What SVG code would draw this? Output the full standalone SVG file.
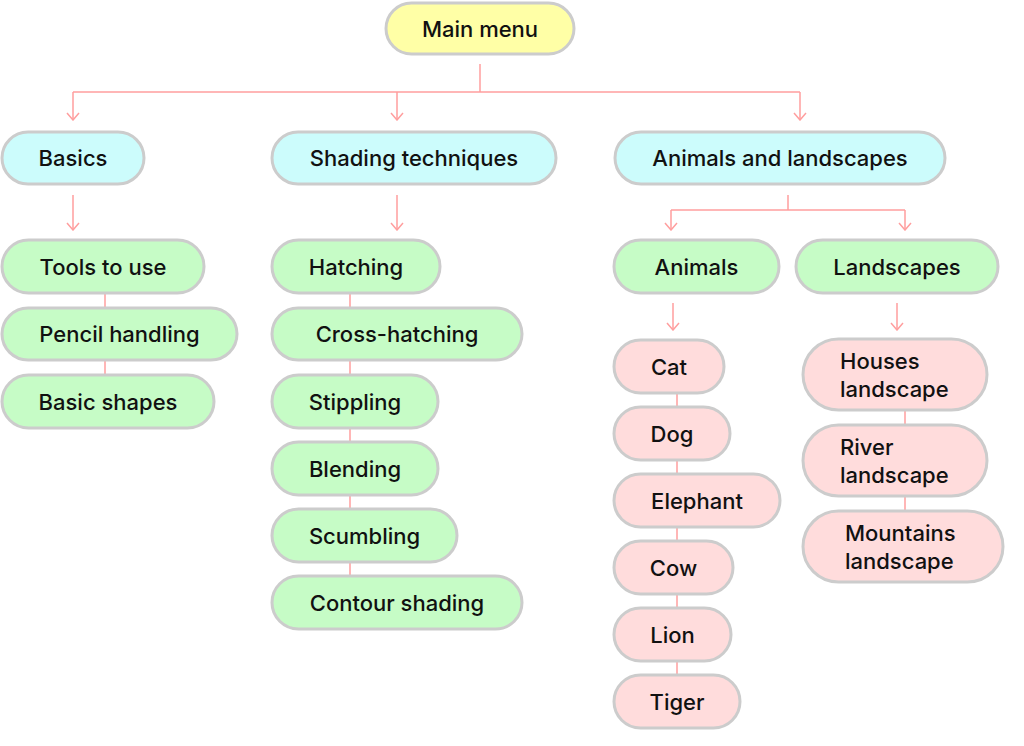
<svg xmlns="http://www.w3.org/2000/svg" width="1024" height="746" viewBox="0 0 1024 746">
<defs>
<marker id="ah" viewBox="0 0 10 14" refX="9" refY="7" markerWidth="10" markerHeight="14" markerUnits="userSpaceOnUse" orient="auto">
<path d="M2,1 L9,7 L2,13" fill="none" stroke="#ff9e9e" stroke-width="1.5"/>
</marker>
<style>
.n rect{stroke:#cccccc;stroke-width:3}
.y rect{fill:#ffffa6}
.c rect{fill:#ccfcfc}
.g rect{fill:#c6fcc6}
.p rect{fill:#ffdcdc}
text{font-family:Inter,"Noto Sans","Liberation Sans",sans-serif;font-size:22px;font-weight:500;fill:#111111;dominant-baseline:central}
.n text{text-anchor:middle}
.ml text{text-anchor:start}
#conn path{fill:none;stroke:#ff9e9e;stroke-width:1.5}
#conn .a{marker-end:url(#ah)}
</style>
</defs>
<rect width="1024" height="746" fill="#ffffff"/>
<g id="conn">
<path d="M480,64 V92 M73,92 H800"/>
<path class="a" d="M73,92 V120"/>
<path class="a" d="M397,92 V120"/>
<path class="a" d="M800,92 V120"/>
<path class="a" d="M73,195 V230"/>
<path class="a" d="M397,195 V230"/>
<path d="M788,195 V210 M671,210 H905"/>
<path class="a" d="M671,210 V230"/>
<path class="a" d="M905,210 V230"/>
<path class="a" d="M673,303 V330"/>
<path class="a" d="M897,303 V330"/>
<path d="M105,293 V308 M105,360 V375"/>
<path d="M350,293 V308 M350,360 V375 M350,428 V442 M350,495 V509 M350,562 V576"/>
<path d="M677,393 V407 M677,460 V474 M677,527 V541 M677,594 V608 M677,661 V675"/>
<path d="M905,410 V425 M905,496 V511"/>
</g>
<g id="main" class="n y"><rect x="386" y="3" width="188" height="51" rx="25.5"/><text x="480" y="28.5">Main menu</text></g>
<g id="basics" class="n c"><rect x="2" y="132" width="142" height="52" rx="26"/><text x="73" y="158">Basics</text></g>
<g id="shading" class="n c"><rect x="272" y="132" width="284" height="52" rx="26"/><text x="414" y="158">Shading techniques</text></g>
<g id="animals-landscapes" class="n c"><rect x="615" y="132" width="330" height="52" rx="26"/><text x="780" y="158">Animals and landscapes</text></g>
<g id="tools" class="n g"><rect x="2" y="240" width="202" height="53" rx="26.5"/><text x="103" y="266.5">Tools to use</text></g>
<g id="pencil" class="n g"><rect x="2" y="308" width="235" height="52" rx="26"/><text x="119.5" y="334">Pencil handling</text></g>
<g id="basic-shapes" class="n g"><rect x="2" y="375" width="212" height="53" rx="26.5"/><text x="108" y="401.5">Basic shapes</text></g>
<g id="hatching" class="n g"><rect x="272" y="240" width="168" height="53" rx="26.5"/><text x="356" y="266.5">Hatching</text></g>
<g id="cross-hatching" class="n g"><rect x="272" y="308" width="250" height="52" rx="26"/><text x="397" y="334">Cross-hatching</text></g>
<g id="stippling" class="n g"><rect x="272" y="375" width="166" height="53" rx="26.5"/><text x="355" y="401.5">Stippling</text></g>
<g id="blending" class="n g"><rect x="272" y="442" width="166" height="53" rx="26.5"/><text x="355" y="468.5">Blending</text></g>
<g id="scumbling" class="n g"><rect x="272" y="509" width="185" height="53" rx="26.5"/><text x="364.5" y="535.5">Scumbling</text></g>
<g id="contour" class="n g"><rect x="272" y="576" width="250" height="53" rx="26.5"/><text x="397" y="602.5">Contour shading</text></g>
<g id="animals" class="n g"><rect x="614" y="240" width="165" height="53" rx="26.5"/><text x="696.5" y="266.5">Animals</text></g>
<g id="landscapes" class="n g"><rect x="796" y="240" width="202" height="53" rx="26.5"/><text x="897" y="266.5">Landscapes</text></g>
<g id="cat" class="n p"><rect x="614" y="340" width="110" height="53" rx="26.5"/><text x="669" y="366.5">Cat</text></g>
<g id="dog" class="n p"><rect x="614" y="407" width="116" height="53" rx="26.5"/><text x="672" y="433.5">Dog</text></g>
<g id="elephant" class="n p"><rect x="614" y="474" width="166" height="53" rx="26.5"/><text x="697" y="500.5">Elephant</text></g>
<g id="cow" class="n p"><rect x="614" y="541" width="119" height="53" rx="26.5"/><text x="673.5" y="567.5">Cow</text></g>
<g id="lion" class="n p"><rect x="614" y="608" width="117" height="53" rx="26.5"/><text x="672.5" y="634.5">Lion</text></g>
<g id="tiger" class="n p"><rect x="614" y="675" width="126" height="53" rx="26.5"/><text x="677" y="701.5">Tiger</text></g>
<g id="houses" class="n p ml"><rect x="803" y="339" width="184" height="71" rx="35.5"/><text x="840" y="361">Houses</text><text x="840" y="389">landscape</text></g>
<g id="river" class="n p ml"><rect x="803" y="425" width="184" height="71" rx="35.5"/><text x="840" y="447">River</text><text x="840" y="475">landscape</text></g>
<g id="mountains" class="n p ml"><rect x="803" y="511" width="200" height="71" rx="35.5"/><text x="845" y="533">Mountains</text><text x="845" y="561">landscape</text></g>
</svg>
